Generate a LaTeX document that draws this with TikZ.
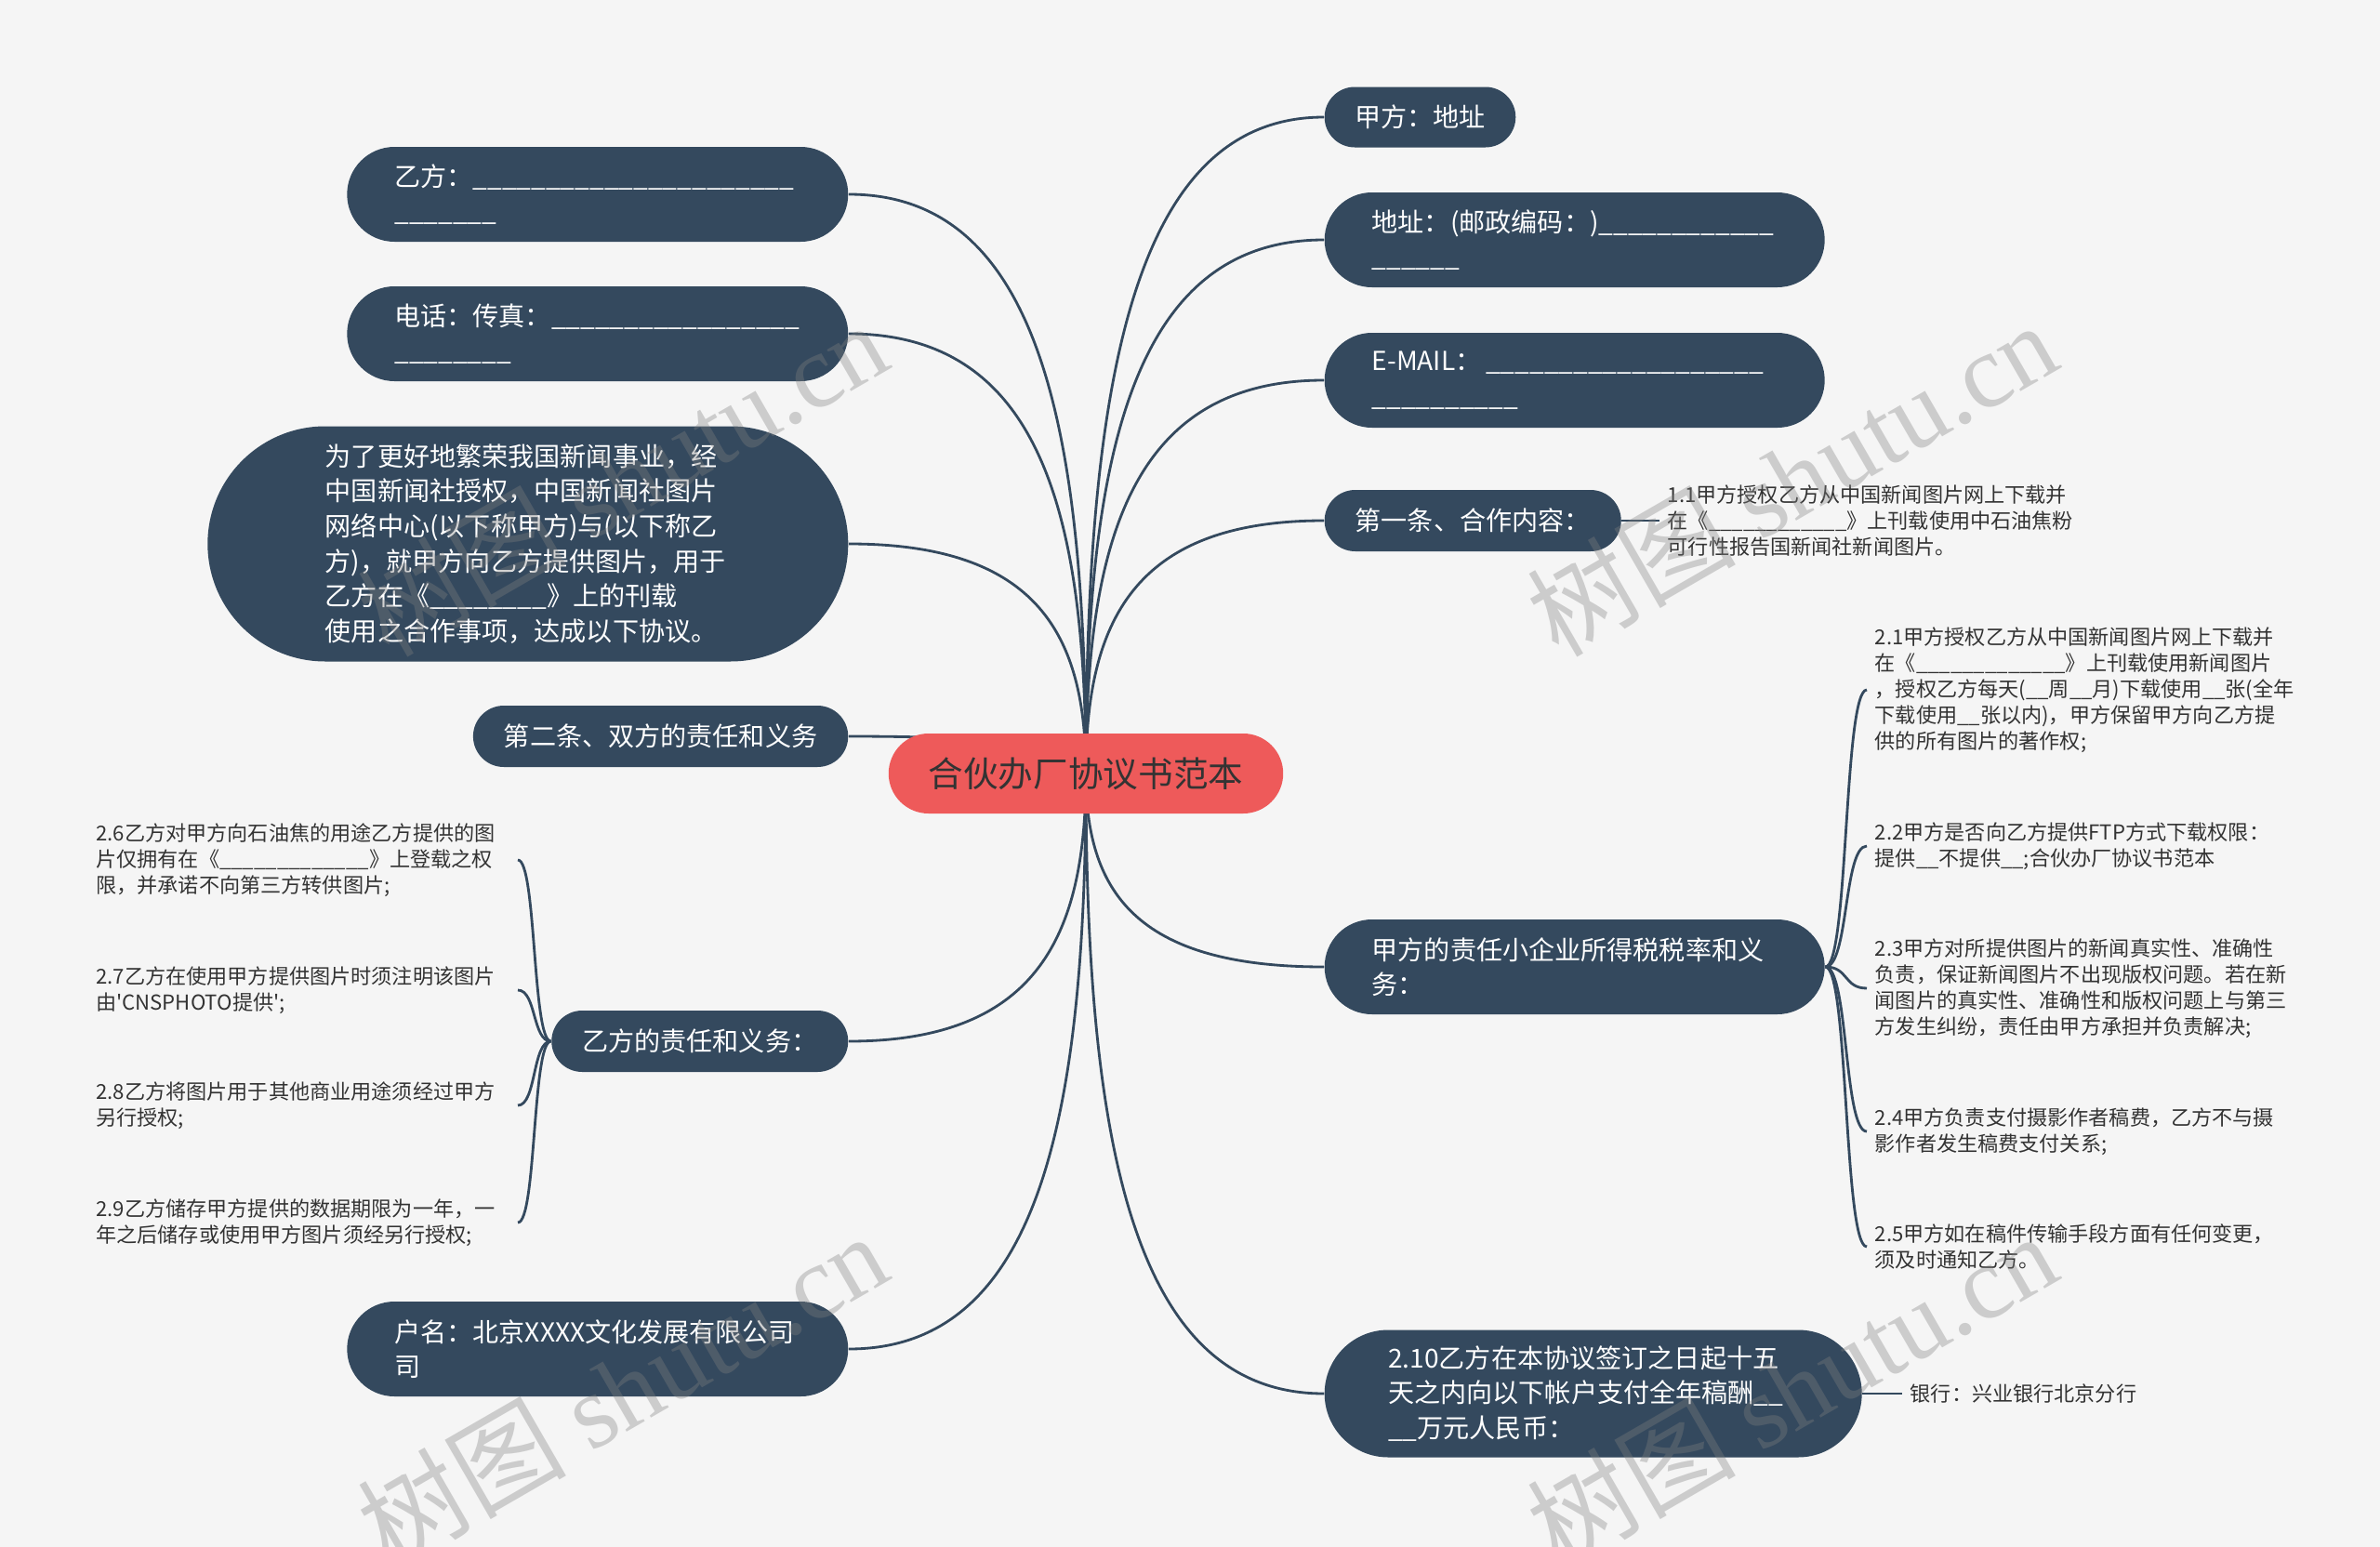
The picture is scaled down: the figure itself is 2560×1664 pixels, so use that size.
\documentclass[tikz,border=0pt]{standalone}
\usepackage{fontspec}
\setmainfont{Noto Sans CJK SC}
\newfontfamily\wmlatin{Liberation Serif}
\usetikzlibrary{calc}
\definecolor{topicblue}{HTML}{34495E}
\definecolor{rootred}{HTML}{EE5A5A}
\definecolor{paper}{HTML}{F5F5F5}
\definecolor{leaftext}{HTML}{333333}
\pgfdeclarelayer{background}
\pgfsetlayers{background,main}
\newcommand\blanks[1]{\foreach\k in {1,...,#1}{\_}}

\begin{document}
\begin{tikzpicture}[x=0.1mm, y=-0.1mm,
    topic/.style={rectangle, fill=topicblue, text=white, inner ysep=0pt, align=left, font=\fontsize{8}{10.7}\selectfont},
    pill/.style={minimum height=2*#1, rounded corners=#1, inner xsep=#1},
    leaf/.style={inner sep=0.8mm, text=leaftext, align=left, font=\fontsize{6.3}{8}\selectfont},
    link/.style={draw=topicblue, line width=0.8pt},
    wm/.style={text=gray, text opacity=0.35, rotate=30, font=\fontsize{32}{32}\selectfont}]
    \useasboundingbox (0,0) rectangle (2560,1664);

    %central topic
        \node[topic, pill=4.3mm, fill=rootred, text=black!80, font=\fontsize{10.7}{13}\selectfont] (root) at (1168,832) {合伙办厂协议书范本};

    %right branches
        \node[topic, pill=3.25mm, anchor=west] (R1) at (1424,126) {甲方：地址};
        \node[topic, pill=5.1mm, anchor=west, text width=43.6mm] (R2) at (1424,258) {地址：(邮政编码：)\blanks{12}\\\blanks{6}};
        \node[topic, pill=5.1mm, anchor=west, text width=43.6mm] (R3) at (1424,409) {\mbox{E-MAIL：}\,\blanks{19}\\\blanks{10}};
        \node[topic, pill=3.3mm, anchor=west] (R4) at (1424,560) {第一条、合作内容：};
        \node[topic, pill=5.1mm, anchor=west, text width=43.6mm] (R5) at (1424,1040) {甲方的责任小企业所得税税率和义\\务：};
        \node[topic, pill=6.85mm, anchor=west, text width=44.1mm] (R6) at (1424,1499) {2.10乙方在本协议签订之日起十五\\天之内向以下帐户支付全年稿酬\blanks{2}\\\blanks{2}万元人民币：};

    %left branches
        \node[topic, pill=5.1mm, anchor=east, text width=43.7mm] (L1) at (913,209) {乙方：\blanks{22}\\\blanks{7}};
        \node[topic, pill=5.1mm, anchor=east, text width=43.7mm] (L2) at (913,359) {电话：传真：\blanks{17}\\\blanks{8}};
        \node[topic, pill=12.65mm, anchor=east, text width=43.6mm] (L3) at (913,585) {为了更好地繁荣我国新闻事业，经\\中国新闻社授权，中国新闻社图片\\网络中心(以下称甲方)与(以下称乙\\方)，就甲方向乙方提供图片，用于\\乙方在《\blanks{8}》上的刊载\\使用之合作事项，达成以下协议。};
        \node[topic, pill=3.3mm, anchor=east] (L4) at (913,792) {第二条、双方的责任和义务};
        \node[topic, pill=3.3mm, anchor=east] (L5) at (913,1120) {乙方的责任和义务：};
        \node[topic, pill=5.1mm, anchor=east, text width=43.7mm] (L6) at (913,1451) {户名：北京XXXX文化发展有限公司\\司};

    %leaves
        \node[leaf, anchor=west] (a1) at (1785,560) {1.1甲方授权乙方从中国新闻图片网上下载并\\在《\blanks{12}》上刊载使用中石油焦粉\\可行性报告国新闻社新闻图片。};
        \node[leaf, anchor=west] (b1) at (2008,742) {2.1甲方授权乙方从中国新闻图片网上下载并\\在《\blanks{13}》上刊载使用新闻图片\\，授权乙方每天(\blanks{2}周\blanks{2}月)下载使用\blanks{2}张(全年\\下载使用\blanks{2}张以内)，甲方保留甲方向乙方提\\供的所有图片的著作权;};
        \node[leaf, anchor=west] (b2) at (2008,910) {2.2甲方是否向乙方提供FTP方式下载权限：\\提供\blanks{2}不提供\blanks{2};合伙办厂协议书范本};
        \node[leaf, anchor=west] (b3) at (2008,1063) {2.3甲方对所提供图片的新闻真实性、准确性\\负责，保证新闻图片不出现版权问题。若在新\\闻图片的真实性、准确性和版权问题上与第三\\方发生纠纷，责任由甲方承担并负责解决;};
        \node[leaf, anchor=west] (b4) at (2008,1217) {2.4甲方负责支付摄影作者稿费，乙方不与摄\\影作者发生稿费支付关系;};
        \node[leaf, anchor=west] (b5) at (2008,1341) {2.5甲方如在稿件传输手段方面有任何变更，\\须及时通知乙方。};
        \node[leaf, anchor=east, text width=44.5mm] (c1) at (557,925) {2.6乙方对甲方向石油焦的用途乙方提供的图\\片仅拥有在《\blanks{13}》上登载之权\\限，并承诺不向第三方转供图片;};
        \node[leaf, anchor=east, text width=44.5mm] (c2) at (557,1065) {2.7乙方在使用甲方提供图片时须注明该图片\\由\textquotesingle CNSPHOTO提供\textquotesingle;};
        \node[leaf, anchor=east, text width=44.5mm] (c3) at (557,1189) {2.8乙方将图片用于其他商业用途须经过甲方\\另行授权;};
        \node[leaf, anchor=east, text width=44.5mm] (c4) at (557,1315) {2.9乙方储存甲方提供的数据期限为一年，一\\年之后储存或使用甲方图片须经另行授权;};
        \node[leaf, anchor=west] (bank) at (2046,1499) {银行：兴业银行北京分行};

    %connectors, behind the nodes
    \begin{pgfonlayer}{background}
        \fill[paper] (0,0) rectangle (2560,1664);
        \foreach \i in {1,...,6}{
            \draw[link] (root.center) .. controls ($(root.center)!0.6!(root.center|-R\i.west)$) and ($(R\i.west)!0.8!(root.center|-R\i.west)$) .. (R\i.west);
            \draw[link] (root.center) .. controls ($(root.center)!0.6!(root.center|-L\i.east)$) and ($(L\i.east)!0.8!(root.center|-L\i.east)$) .. (L\i.east);
        }
        \draw[link] (R4.east) -- (a1.west);
        \draw[link] (R6.east) -- (bank.west);
        \foreach \i in {1,...,5}
            \draw[link] (R5.east) .. controls +(25,0) and +(-25,0) .. (b\i.west);
        \foreach \i in {1,...,4}
            \draw[link] (L5.west) .. controls +(-20,0) and +(20,0) .. (c\i.east);
    \end{pgfonlayer}

    %watermarks
        \foreach \x/\y in {669/514, 1927/514, 669/1494, 1927/1494}
            \node[wm] at (\x,\y) {树图 {\wmlatin shutu.cn}};
\end{tikzpicture}
\end{document}
